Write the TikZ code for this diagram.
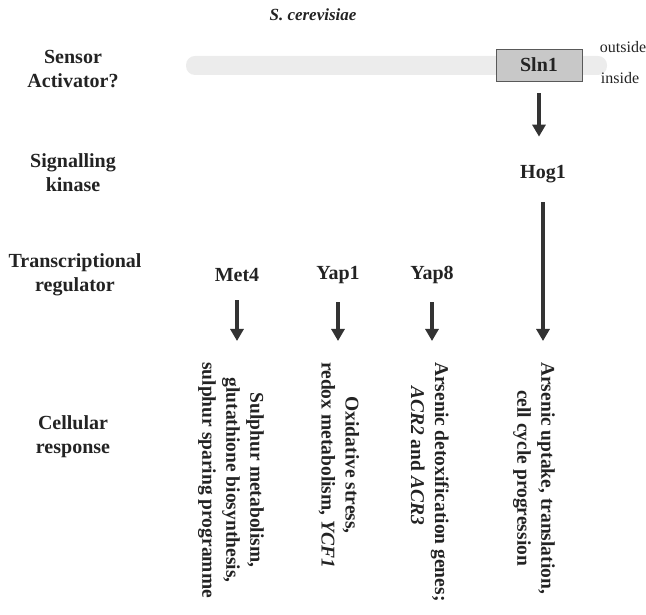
\documentclass[tikz,border=0pt]{standalone}
\usepackage{fontspec}
\setmainfont{Liberation Serif}
\usetikzlibrary{arrows.meta,positioning}
\definecolor{ArrowGray}{RGB}{51,51,51}
\definecolor{TextGray}{RGB}{35,35,35}
\definecolor{MembraneGray}{RGB}{236,236,236}
\definecolor{BoxGray}{RGB}{200,200,200}

\begin{document}
\begin{tikzpicture}[
    x=1pt, y=1pt,
    every node/.style={text=TextGray},
    rowlabel/.style={align=center, font=\fontsize{20}{24}\selectfont\bfseries},
    protein/.style={font=\fontsize{20}{24}\selectfont\bfseries},
    response/.style={rotate=-90, anchor=west, inner sep=0pt, align=center, font=\fontsize{19.5}{24}\selectfont\bfseries},
    side/.style={font=\fontsize{16}{18}\selectfont},
    arrow/.style={-{Triangle[width=13pt,length=12pt]}, line width=3.5pt, ArrowGray}
  ]
    \useasboundingbox (0,0) rectangle (646,615);

    % title and row labels
    \node[font=\fontsize{17}{20}\selectfont\bfseries\itshape] (title) at (313,600) {S. cerevisiae};
    \node[rowlabel] (sensor) at (73,546) {Sensor\\Activator?};
    \node[rowlabel] (kinase) at (73,442) {Signalling\\kinase};
    \node[rowlabel] (regulator) at (75,340) {Transcriptional\\regulator};
    \node[rowlabel] (cellular) at (73,178) {Cellular\\response};

    % membrane with sensor
    \fill[MembraneGray, rounded corners=9pt] (186,540) rectangle (607,559);
    \node[protein, draw=gray!70!black, fill=BoxGray, minimum width=86pt, minimum height=32pt] (sln1) at (539,550) {Sln1};
    \node[side] (outside) at (623,568) {outside};
    \node[side] (inside) at (620,537) {inside};

    % kinase and regulators
    \node[protein] (hog1) at (543,441) {Hog1};
    \node[protein] (met4) at (237,340) {Met4};
    \node[protein] (yap1) at (338,340) {Yap1};
    \node[protein] (yap8) at (432,340) {Yap8};

    % responses
    \node[response] (met4resp) at (231,253) {Sulphur metabolism,\\glutathione biosynthesis,\\sulphur sparing programme};
    \node[response] (yap1resp) at (339,253) {Oxidative stress,\\redox metabolism, \textit{YCF1}};
    \node[response, align=left] (yap8resp) at (430,253) {Arsenic detoxification genes;\\\hspace*{24pt}\textit{ACR2} and \textit{ACR3}};
    \node[response] (hog1resp) at (534,253) {Arsenic uptake, translation,\\cell cycle progression};

    \draw[arrow, shorten <=12pt, shorten >=25pt] (sln1.south) -- (sln1.south |- hog1.north);
    \draw[arrow, shorten <=16pt, shorten >=21pt] (hog1.south) -- (hog1.south |- hog1resp.west);
    \draw[arrow, shorten <=15pt, shorten >=21pt] (met4.south) -- (met4.south |- met4resp.west);
    \draw[arrow, shorten <=15pt, shorten >=21pt] (yap1.south) -- (yap1.south |- yap1resp.west);
    \draw[arrow, shorten <=15pt, shorten >=21pt] (yap8.south) -- (yap8.south |- yap8resp.west);
\end{tikzpicture}
\end{document}
